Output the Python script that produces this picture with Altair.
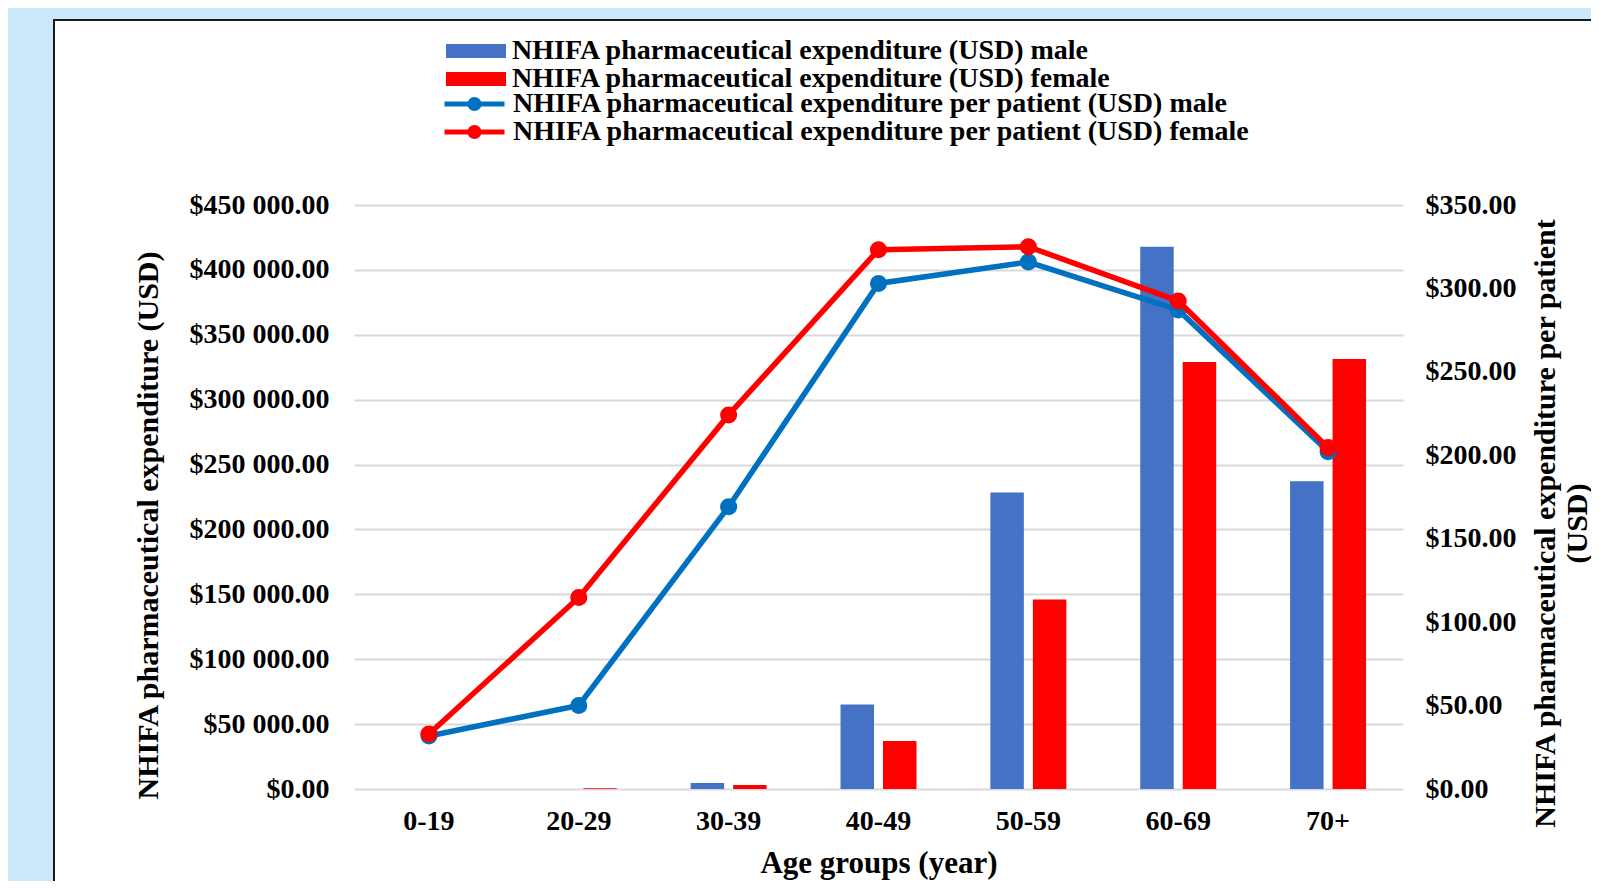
import altair as alt
import pandas as pd

# ---------------- data ----------------
age_groups = ["0-19", "20-29", "30-39", "40-49", "50-59", "60-69", "70+"]
exp_male = [0, 0, 4700, 65200, 228500, 417800, 237100]
exp_female = [0, 600, 3100, 36900, 146000, 329000, 331400]
pp_male = [31.8, 50.1, 169.2, 303.0, 315.8, 287.1, 202.2]
pp_female = [33.0, 114.8, 224.2, 323.2, 325.0, 292.5, 204.6]

S_BM = "NHIFA pharmaceutical expenditure (USD) male"
S_BF = "NHIFA pharmaceutical expenditure (USD) female"
S_LM = "NHIFA pharmaceutical expenditure per patient (USD) male"
S_LF = "NHIFA pharmaceutical expenditure per patient (USD) female"

left_ticks = list(range(0, 450001, 50000))
right_ticks = list(range(0, 351, 50))

bars_df = pd.DataFrame({
    "age": age_groups * 2,
    "series": [S_BM] * 7 + [S_BF] * 7,
    "value": exp_male + exp_female,
})
lm_df = pd.DataFrame({"age": age_groups, "series": [S_LM] * 7, "value": pp_male})
lf_df = pd.DataFrame({"age": age_groups, "series": [S_LF] * 7, "value": pp_female})
one = pd.DataFrame({"k": [0]})

FONT = "Liberation Serif"
BLUE_BG = "#cce9fb"

# ---------------- encodings ----------------
x_axis = alt.Axis(
    labelAngle=0, domain=False, ticks=False, tickSize=0, grid=False,
    labelPadding=18, labelFont=FONT, labelFontSize=28, labelFontWeight="bold",
    labelColor="black", title="Age groups (year)", titleFont=FONT,
    titleFontSize=31, titleFontWeight="bold", titleColor="black", titlePadding=13,
)
x_enc = alt.X("age:N", sort=age_groups,
              scale=alt.Scale(paddingInner=0.493, paddingOuter=0.2465),
              axis=x_axis)

left_axis = alt.Axis(
    orient="left", values=left_ticks,
    labelExpr="'$' + replace(format(datum.value, ',.2f'), ',', ' ')",
    grid=True, gridColor="#d9d9d9", gridWidth=2, domain=False, ticks=False,
    tickSize=0, labelPadding=25, labelFont=FONT, labelFontSize=28,
    labelFontWeight="bold", labelColor="black",
    title="NHIFA pharmaceutical expenditure (USD)", titleFont=FONT,
    titleFontSize=30, titleFontWeight="bold", titleColor="black",
    titleX=-206, titleY=320, titleAngle=270, titleAlign="center",
    titleBaseline="middle",
)
right_axis = alt.Axis(
    orient="right", values=right_ticks,
    labelExpr="'$' + format(datum.value, '.2f')",
    grid=False, domain=False, ticks=False, tickSize=0, labelPadding=22,
    labelFont=FONT, labelFontSize=28, labelFontWeight="bold", labelColor="black",
    title=["NHIFA pharmaceutical expenditure per patient", "(USD)"],
    titleFont=FONT, titleFontSize=30, titleFontWeight="bold", titleColor="black",
    titleX=142, titleY=318, titleAngle=270, titleAlign="center",
    titleBaseline="middle", titleLineHeight=32,
)

RECT_PATH = "M-1,-0.235H1V0.235H-1Z"
LINE_PATH = ("M-1,0H1"
             "M-0.15,0A0.15,0.15 0 1,1 0.15,0A0.15,0.15 0 1,1 -0.15,0"
             "M-0.07,0A0.07,0.07 0 1,1 0.07,0A0.07,0.07 0 1,1 -0.07,0")

common_legend = dict(
    orient="none", title=None, symbolSize=3600, clipHeight=26, rowPadding=0,
    labelFont=FONT, labelFontSize=28, labelFontWeight="bold", labelColor="black",
    labelOffset=6, labelLimit=0, padding=0,
)

fill_enc = alt.Fill(
    "series:N",
    scale=alt.Scale(domain=[S_BM, S_BF], range=["#4472C4", "#FF0000"]),
    legend=alt.Legend(legendX=92, legendY=-167, symbolType=RECT_PATH,
                      symbolStrokeWidth=0, **common_legend),
)
stroke_enc = alt.Stroke(
    "series:N",
    scale=alt.Scale(domain=[S_LM, S_LF], range=["#0070C0", "#FF0000"]),
    legend=alt.Legend(legendX=88, legendY=-114, symbolType=LINE_PATH,
                      symbolStrokeWidth=5, **common_legend),
)
pt_color = alt.Color(
    "series:N",
    scale=alt.Scale(domain=[S_LM, S_LF], range=["#0070C0", "#FF0000"]),
    legend=None,
)
y_right = alt.Y("value:Q", scale=alt.Scale(domain=[0, 350], nice=False),
                axis=right_axis)

# ---------------- decoration (page frame) ----------------
strip_left = alt.Chart(one).mark_rect(fill=BLUE_BG).encode(
    x=alt.value(-360), x2=alt.value(-300), y=alt.value(-220), y2=alt.value(720))
strip_top = alt.Chart(one).mark_rect(fill=BLUE_BG).encode(
    x=alt.value(-360), x2=alt.value(1300), y=alt.value(-220), y2=alt.value(-185))
frame = alt.Chart(one).mark_rect(fill=None, stroke="#1a1a1a", strokeWidth=2).encode(
    x=alt.value(-300), x2=alt.value(1265), y=alt.value(-185), y2=alt.value(704))

# ---------------- data layers ----------------
bars = alt.Chart(bars_df).mark_bar().encode(
    x=x_enc,
    xOffset=alt.XOffset("series:N", sort=[S_BM, S_BF],
                        scale=alt.Scale(paddingInner=0.212, paddingOuter=0)),
    y=alt.Y("value:Q", scale=alt.Scale(domain=[0, 450000], nice=False),
            axis=left_axis),
    fill=fill_enc,
)

line_m = alt.Chart(lm_df).mark_line(strokeWidth=5.5).encode(
    x=x_enc, y=y_right, stroke=stroke_enc)
pts_m = alt.Chart(lm_df).mark_circle(size=290, opacity=1).encode(
    x=x_enc, y=y_right, color=pt_color)
line_f = alt.Chart(lf_df).mark_line(strokeWidth=5.5).encode(
    x=x_enc, y=y_right, stroke=stroke_enc)
pts_f = alt.Chart(lf_df).mark_circle(size=290, opacity=1).encode(
    x=x_enc, y=y_right, color=pt_color)

lines = alt.layer(line_m, pts_m, line_f, pts_f)

chart = alt.layer(strip_left, strip_top, frame, bars, lines).resolve_scale(
    y="independent"
).properties(
    width=1049, height=584,
    autosize=alt.AutoSizeParams(type="none"),
    padding={"left": 346, "top": 197, "right": 188, "bottom": 92},
    background="white",
).configure_view(stroke=None)

chart.save("out.html", embed_options={"renderer": "svg", "actions": False})
